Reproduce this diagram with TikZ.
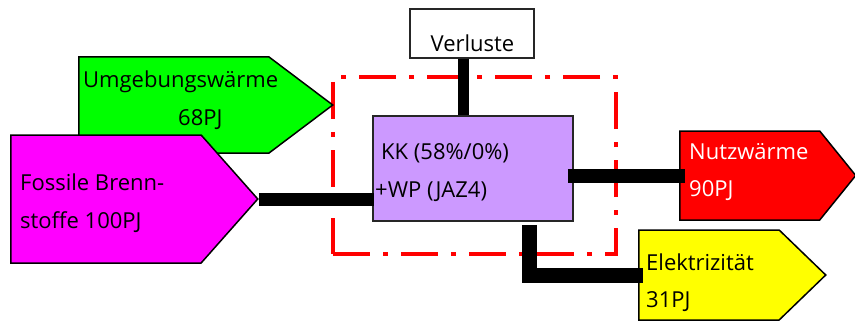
\documentclass[tikz,border=0pt]{standalone}
\usepackage{fontspec}
\setmainfont{Open Sans}
\usepackage{tikz}
\usetikzlibrary{shapes.symbols}
\definecolor{kkviolet}{HTML}{CC99FF}
\definecolor{umggreen}{HTML}{00FF00}
\definecolor{fosmagenta}{HTML}{FF00FF}
\definecolor{nutzred}{HTML}{FF0000}
\definecolor{elekyellow}{HTML}{FFFF00}

\begin{document}
\begin{tikzpicture}[x=1pt, y=-1pt,
  txt/.style={font=\fontsize{22}{26}\selectfont, inner sep=0pt, anchor=base west},
  sig/.style={shape=signal, signal to=east, draw=black, line width=1.5pt, inner sep=0pt, anchor=west},
  boxed/.style={draw=black!85, line width=1.5pt, inner sep=0pt},
  bar/.style={line width=13pt}]
\useasboundingbox (0,0) rectangle (855,321);
% frame of the system
\node[draw=nutzred, line width=4.5pt, dash pattern=on 37pt off 13pt on 5pt off 13pt,
  minimum width=283pt, minimum height=177pt] (frame) at (474.5,165.5) {};
% inputs and outputs
\node[sig, fill=umggreen, minimum width=254pt, minimum height=96pt, signal pointer angle=74] (umg) at (78,105) {};
\node[sig, fill=fosmagenta, minimum width=247pt, minimum height=128pt, signal pointer angle=97] (fos) at (10,199) {};
\node[sig, fill=nutzred, minimum width=176pt, minimum height=89pt, signal pointer angle=102] (nutz) at (679,175.5) {};
\node[sig, fill=elekyellow, minimum width=187pt, minimum height=90pt, signal pointer angle=88] (elek) at (638,275) {};
\node[boxed, fill=white, minimum width=124pt, minimum height=49pt] (verl) at (472,33.5) {};
\node[boxed, fill=kkviolet, minimum width=200pt, minimum height=105pt] (kk) at (473,168.5) {};
% texts
\node[txt] (umg1) at (83,88) {Umgebungswärme};
\node[txt] (umg2) at (178,125) {68PJ};
\node[txt] (fos1) at (20,190) {Fossile Brenn-};
\node[txt] (fos2) at (20,228) {stoffe 100PJ};
\node[txt] (kk1) at (381,160) {KK (58\%/0\%)};
\node[txt] (kk2) at (375,197) {+WP (JAZ4)};
\node[txt, anchor=base] (verl1) at (472.5,52) {Verluste};
\node[txt, text=white] (nutz1) at (689,159) {Nutzwärme};
\node[txt, text=white] (nutz2) at (689,196) {90PJ};
\node[txt] (elek1) at (646,270) {Elektrizität};
\node[txt] (elek2) at (646,307) {31PJ};
% flows
\draw[bar, line width=11pt] ([xshift=-9pt]verl.south) -- ([xshift=-9pt]verl.south |- kk.north);
\draw[bar] (fos.east) -- ([xshift=2pt]fos.east -| kk.west);
\draw[bar, line width=14pt] ([xshift=-6pt]kk.east |- nutz.west) -- ([xshift=6pt]nutz.west);
\draw[bar, line width=15pt] ([xshift=56pt, yshift=-3pt]kk.south) |- ([xshift=5pt]elek.west);
\end{tikzpicture}
\end{document}
